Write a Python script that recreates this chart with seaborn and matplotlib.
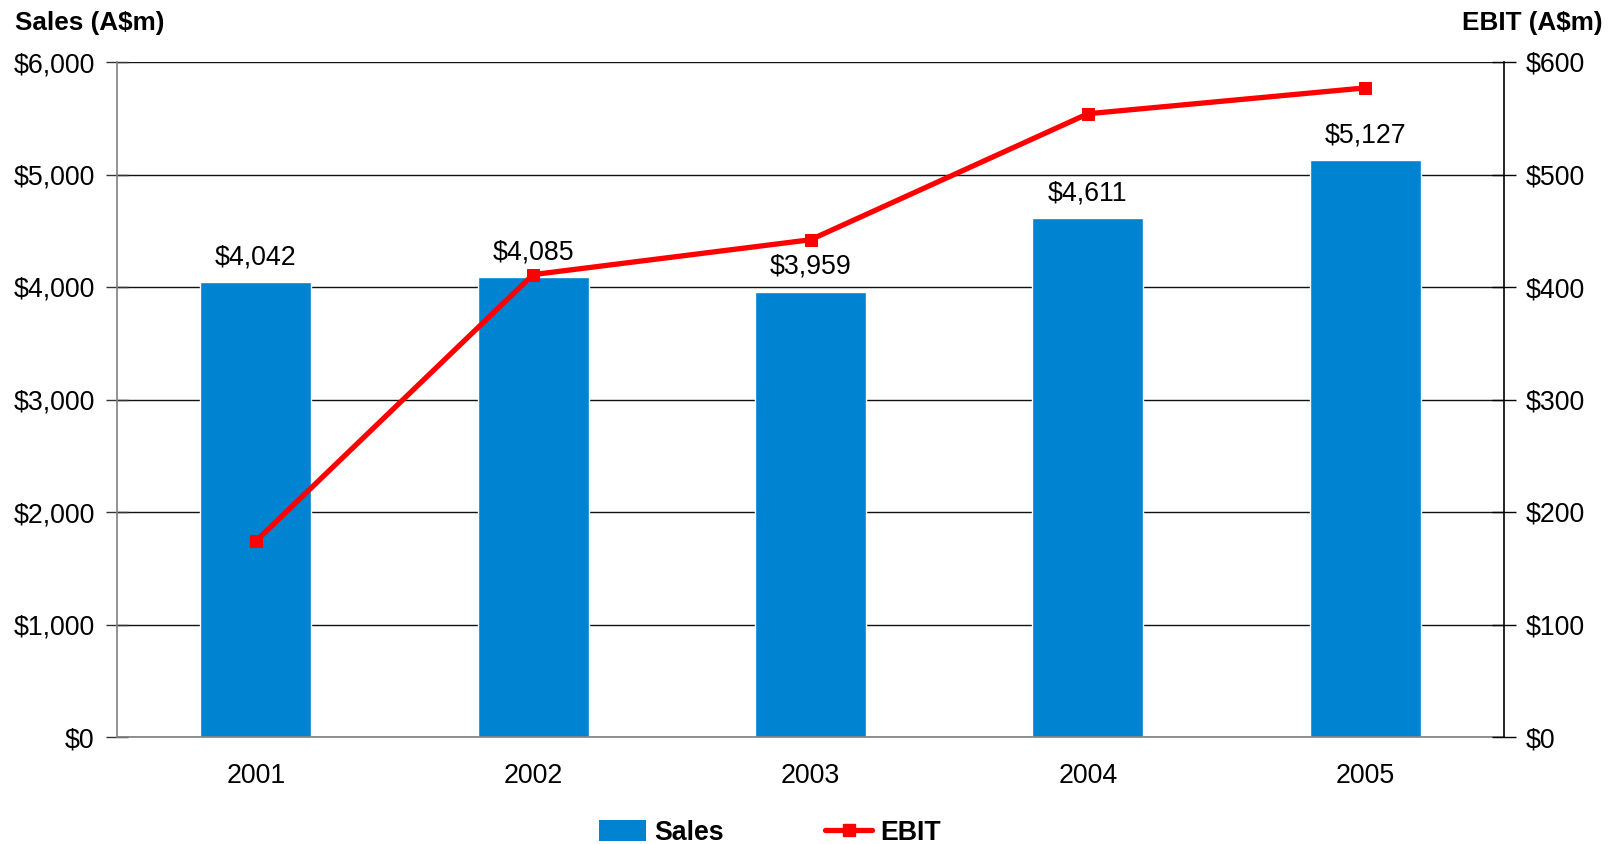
import matplotlib
matplotlib.use("Agg")
import matplotlib.pyplot as plt
import seaborn as sns
import pandas as pd
from matplotlib.patches import Patch
from matplotlib.lines import Line2D
from matplotlib.ticker import FuncFormatter, FixedLocator

years = ["2001", "2002", "2003", "2004", "2005"]
sales = [4042, 4085, 3959, 4611, 5127]
ebit = [174, 411, 442, 554, 577]
sales_ticks = [0, 1000, 2000, 3000, 4000, 5000, 6000]
ebit_ticks = [0, 100, 200, 300, 400, 500, 600]

sns.set_theme(style="white")
plt.rcParams['font.family'] = ['Liberation Sans', 'DejaVu Sans']
plt.rcParams['text.color'] = 'black'
plt.rcParams['xtick.labelcolor'] = 'black'
plt.rcParams['ytick.labelcolor'] = 'black'

BLUE = "#0083D0"
RED = "#FF0000"
FS = 19.3
TFS = 18.8

df = pd.DataFrame({"year": years, "sales": sales, "ebit": ebit})

fig = plt.figure(figsize=(16.10, 8.44), dpi=100)
ax = fig.add_axes([117/1610, 1-737/844, (1504-117)/1610, (737-62)/844])

sns.barplot(data=df, x="year", y="sales", color=BLUE, width=0.4, saturation=1,
            ax=ax, zorder=2)
ax.set_ylim(0, 6000)
ax.set_xlim(-0.5, 4.5)
ax.set_yticks(sales_ticks)
ax.yaxis.set_major_formatter(FuncFormatter(lambda v, p: f"${v:,.0f}"))
ax.grid(axis="y", color="#111111", linewidth=1.0, zorder=0)
ax.set_axisbelow(True)
ax.set_xlabel("")
ax.set_ylabel("")

for i, v in enumerate(sales):
    ax.annotate(f"${v:,.0f}", (i, v), xytext=(0, 18), textcoords="offset points",
                ha="center", va="center", fontsize=FS, color="black")

# x ticks: labels at centers, tick marks at boundaries
ax.tick_params(axis="x", which="major", length=0, labelsize=FS, pad=19, colors="black")
ax.xaxis.set_minor_locator(FixedLocator([-0.5, 0.5, 1.5, 2.5, 3.5, 4.5]))
ax.tick_params(axis="x", which="minor", direction="inout", length=17, width=1, color="#333333")
ax.tick_params(axis="y", direction="inout", length=16, width=1, labelsize=FS, pad=8,
               color="#333333", labelcolor="black", left=True)

for s in ["top", "right"]:
    ax.spines[s].set_visible(False)
ax.spines["left"].set_color("#808080")
ax.spines["bottom"].set_color("#808080")
ax.spines["left"].set_linewidth(1.2)
ax.spines["bottom"].set_linewidth(1.2)

ax2 = ax.twinx()
sns.lineplot(data=df, x="year", y="ebit", ax=ax2, color=RED, linewidth=3.8,
             marker="s", markersize=9, markeredgecolor=RED, markerfacecolor=RED, zorder=5)
ax2.set_ylim(0, 600)
ax2.set_xlim(-0.5, 4.5)
ax2.set_yticks(ebit_ticks)
ax2.yaxis.set_major_formatter(FuncFormatter(lambda v, p: f"${v:,.0f}"))
ax2.set_ylabel("")
ax2.set_xlabel("")
ax2.grid(False)
ax2.tick_params(axis="y", direction="inout", length=17, width=1, labelsize=FS, pad=7,
                color="black", labelcolor="black", right=True)
for s in ["top", "left", "bottom"]:
    ax2.spines[s].set_visible(False)
ax2.spines["right"].set_color("black")
ax2.spines["right"].set_linewidth(1.2)

fig.text(15/1610, 1-23/844, "Sales (A$m)", fontsize=TFS, fontweight="bold",
         ha="left", va="center", color="black")
fig.text(1602/1610, 1-23/844, "EBIT (A$m)", fontsize=TFS, fontweight="bold",
         ha="right", va="center", color="black")

handles = [Patch(facecolor=BLUE, edgecolor="none", label="Sales"),
           Line2D([0], [0], color=RED, linewidth=3.8, marker="s", markersize=9, label="EBIT")]
fig.legend(handles=handles, loc="center", bbox_to_anchor=(770/1610, 1-833/844), ncol=2,
           frameon=False, prop={"weight": "bold", "size": FS}, handlelength=1.75,
           handleheight=0.8, handletextpad=0.3, columnspacing=3.8, labelcolor="black")

fig.savefig("out.png", dpi=100)
